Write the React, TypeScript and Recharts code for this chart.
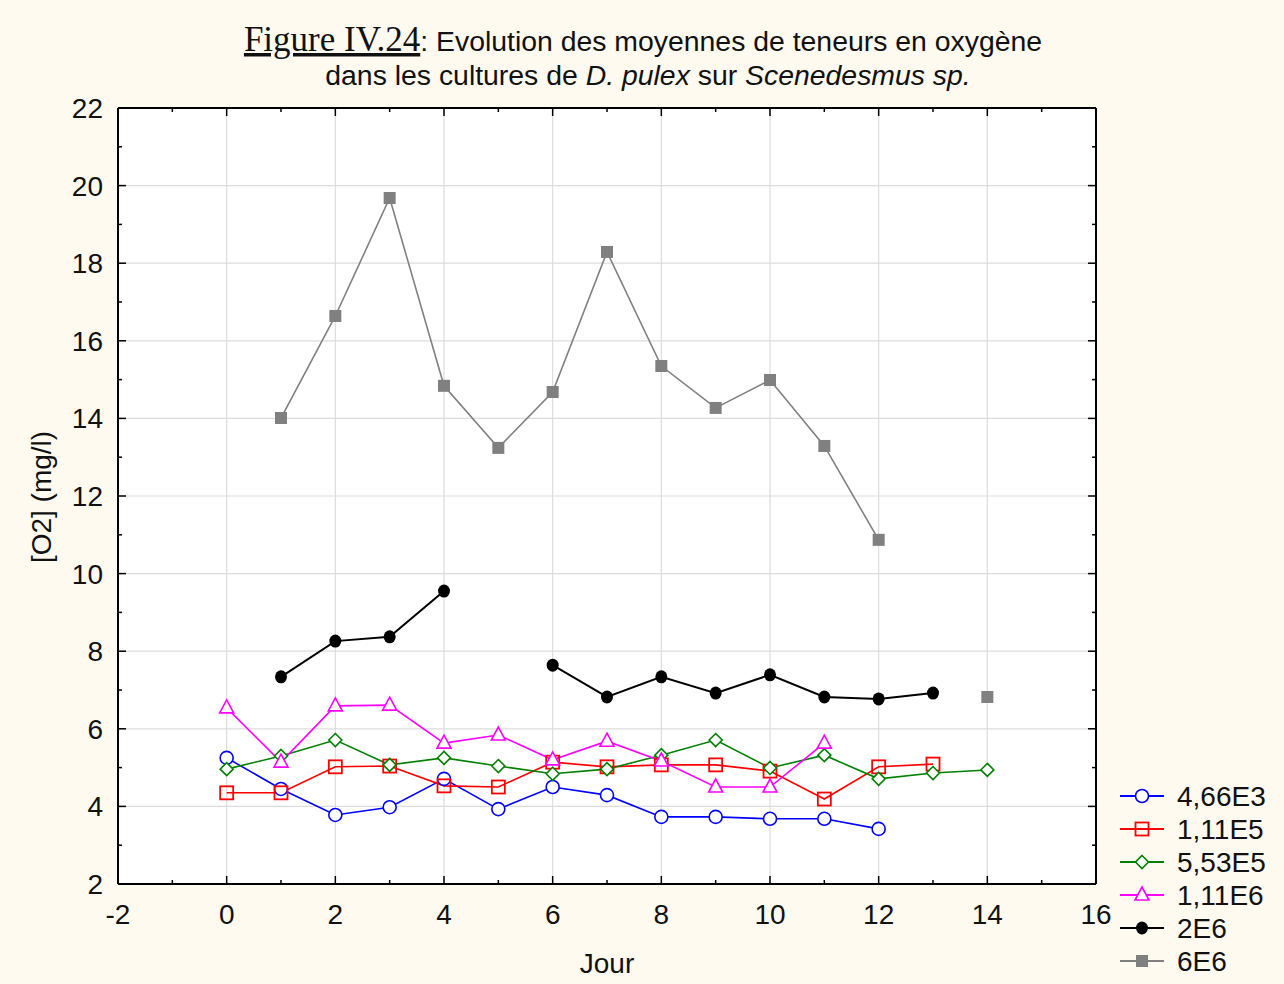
import React from 'react';
import { LineChart, Line, XAxis, YAxis, CartesianGrid, Legend } from 'recharts';

// day index for every row
const days = [0, 1, 2, 3, 4, 5, 6, 7, 8, 9, 10, 11, 12, 13, 14];

// mean O2 content (mg/l) per inoculum density, null = no measurement
const o2_466E3 = [5.25, 4.45, 3.78, 3.98, 4.71, 3.93, 4.5, 4.29, 3.73, 3.73, 3.68, 3.68, 3.42, null, null];
const o2_111E5 = [4.35, 4.35, 5.02, 5.04, 4.53, 4.5, 5.14, 5.02, 5.07, 5.07, 4.91, 4.19, 5.02, 5.09, null];
const o2_553E5 = [4.96, 5.3, 5.71, 5.07, 5.25, 5.04, 4.84, 4.96, 5.32, 5.71, 4.99, 5.32, 4.71, 4.86, 4.94];
const o2_111E6 = [6.54, 5.14, 6.59, 6.61, 5.63, 5.84, 5.2, 5.68, 5.17, 4.5, 4.5, 5.63, null, null, null];
const o2_2E6 = [null, 7.34, 8.26, 8.37, 9.55, null, 7.64, 6.82, 7.34, 6.92, 7.39, 6.82, 6.77, 6.92, null];
const o2_6E6 = [null, 14.01, 16.64, 19.68, 14.84, 13.24, 14.68, 18.29, 15.35, 14.27, 14.99, 13.29, 10.87, null, 6.82];

const seriesNames = ['4,66E3', '1,11E5', '5,53E5', '1,11E6', '2E6', '6E6'];
const seriesColors = ['#0000ff', '#ff0000', '#008000', '#ff00ff', '#000000', '#808080'];
const seriesShapes = ['circle', 'square', 'diamond', 'triangle', 'dot', 'block'];
const seriesWidths = [1.6, 1.6, 1.6, 1.6, 2, 1.6];
const seriesValues = [o2_466E3, o2_111E5, o2_553E5, o2_111E6, o2_2E6, o2_6E6];

const xTicks = [-2, -1, 0, 1, 2, 3, 4, 5, 6, 7, 8, 9, 10, 11, 12, 13, 14, 15, 16];
const yTicks = [2, 3, 4, 5, 6, 7, 8, 9, 10, 11, 12, 13, 14, 15, 16, 17, 18, 19, 20, 21, 22];
const xGrid = [0, 2, 4, 6, 8, 10, 12, 14];
const yGrid = [4, 6, 8, 10, 12, 14, 16, 18, 20];

const data = days.map((day, i) => {
  const row: Record<string, number | null> = { day };
  seriesValues.forEach((vals, s) => {
    row['s' + s] = vals[i];
  });
  return row;
});

const FONT = '"Liberation Sans", Arial, sans-serif';
const BG = '#fffaf0';
const FS = 28;
const MARGIN = { top: 107, right: 187, bottom: 99, left: 117 };
const PLOT_TOP = MARGIN.top + 1; // top frame line (top axis is 1px high)

function Marker({ shape, color, cx, cy }: { shape: string; color: string; cx: number; cy: number }) {
  switch (shape) {
    case 'circle':
      return <circle cx={cx} cy={cy} r={6.5} fill="#fff" stroke={color} strokeWidth={1.6} />;
    case 'square':
      return <rect x={cx - 6.5} y={cy - 6.5} width={13} height={13} fill="none" stroke={color} strokeWidth={1.8} />;
    case 'diamond':
      return (
        <polygon
          points={`${cx},${cy - 6.5} ${cx + 6.5},${cy} ${cx},${cy + 6.5} ${cx - 6.5},${cy}`}
          fill="#fff"
          stroke={color}
          strokeWidth={1.6}
        />
      );
    case 'triangle':
      return (
        <polygon
          points={`${cx},${cy - 8} ${cx + 7},${cy + 5} ${cx - 7},${cy + 5}`}
          fill="#fff"
          stroke={color}
          strokeWidth={1.6}
        />
      );
    case 'dot':
      return <ellipse cx={cx} cy={cy} rx={6} ry={6.5} fill={color} />;
    default:
      return <rect x={cx - 6} y={cy - 6} width={12} height={12} fill={color} />;
  }
}

// ticks point inward; labels only on even values. The bottom axis also
// draws the matching tick on the top frame.
function BottomTick(props: any) {
  const { x, y, payload } = props;
  const v = payload.value;
  const major = v % 2 === 0;
  const len = major ? 8 : 4;
  return (
    <g>
      <line x1={x} x2={x} y1={y} y2={y - len} stroke="#000" strokeWidth={1.5} />
      <line x1={x} x2={x} y1={PLOT_TOP} y2={PLOT_TOP + len} stroke="#000" strokeWidth={1.5} />
      {major && (
        <text x={x} y={y + 40} textAnchor="middle" fontSize={FS} fontFamily={FONT} fill="#111">
          {v}
        </text>
      )}
    </g>
  );
}

function LeftTick(props: any) {
  const { x, y, payload } = props;
  const v = payload.value;
  const major = v % 2 === 0;
  return (
    <g>
      <line x1={x} x2={x + (major ? 8 : 4)} y1={y} y2={y} stroke="#000" strokeWidth={1.5} />
      {major && (
        <text x={x - 15} y={y + 10} textAnchor="end" fontSize={FS} fontFamily={FONT} fill="#111">
          {v}
        </text>
      )}
    </g>
  );
}

function RightTick(props: any) {
  const { x, y, payload } = props;
  const major = payload.value % 2 === 0;
  return <line x1={x} x2={x - (major ? 8 : 4)} y1={y} y2={y} stroke="#000" strokeWidth={1.5} />;
}

function LegendBox() {
  return (
    <svg width={172} height={200}>
      {seriesNames.map((name, i) => {
        const cy = 18 + 33 * i;
        return (
          <g key={name}>
            <line x1={8} x2={52} y1={cy} y2={cy} stroke={seriesColors[i]} strokeWidth={2} />
            <Marker shape={seriesShapes[i]} color={seriesColors[i]} cx={30} cy={cy} />
            <text x={65} y={cy + 10} fontSize={FS} fontFamily={FONT} fill="#111">
              {name}
            </text>
          </g>
        );
      })}
    </svg>
  );
}

export default function App() {
  return (
    <div style={{ position: 'absolute', left: 0, top: 0, width: 1284, height: 984, background: BG }}>
      <LineChart width={1284} height={984} data={data} margin={MARGIN}>
        <CartesianGrid
          fill="#fff"
          stroke="#dcdcdc"
          strokeWidth={1.2}
          horizontalValues={yGrid}
          verticalValues={xGrid}
        />
        <XAxis
          dataKey="day"
          type="number"
          domain={[-2, 16]}
          ticks={xTicks}
          interval={0}
          height={1}
          tickSize={0}
          tickMargin={0}
          tickLine={false}
          tick={<BottomTick />}
          axisLine={{ stroke: '#000', strokeWidth: 2 }}
          allowDataOverflow
        />
        <XAxis
          xAxisId="top"
          orientation="top"
          type="number"
          height={1}
          tick={false}
          tickLine={false}
          axisLine={{ stroke: '#000', strokeWidth: 2 }}
        />
        <YAxis
          type="number"
          domain={[2, 22]}
          ticks={yTicks}
          interval={0}
          width={1}
          tickSize={0}
          tickMargin={0}
          tickLine={false}
          tick={<LeftTick />}
          axisLine={{ stroke: '#000', strokeWidth: 2 }}
          allowDataOverflow
        />
        <YAxis
          yAxisId="right"
          orientation="right"
          type="number"
          domain={[2, 22]}
          ticks={yTicks}
          interval={0}
          width={1}
          tickSize={0}
          tickMargin={0}
          tickLine={false}
          tick={<RightTick />}
          axisLine={{ stroke: '#000', strokeWidth: 2 }}
          allowDataOverflow
        />
        {seriesNames.map((name, s) => (
          <Line
            key={name}
            name={name}
            dataKey={'s' + s}
            stroke={seriesColors[s]}
            strokeWidth={seriesWidths[s]}
            isAnimationActive={false}
            dot={(p: any) =>
              p.cx == null || p.cy == null || p.value == null ? (
                <g key={`d-${s}-${p.index}`} />
              ) : (
                <Marker key={`d-${s}-${p.index}`} shape={seriesShapes[s]} color={seriesColors[s]} cx={p.cx} cy={p.cy} />
              )
            }
            activeDot={false}
          />
        ))}
        <Legend
          layout="horizontal"
          verticalAlign="middle"
          align="center"
          content={() => <LegendBox />}
          wrapperStyle={{ left: 1112, top: 778, width: 172, height: 200 }}
        />
      </LineChart>
      <svg
        width={1284}
        height={984}
        style={{ position: 'absolute', left: 0, top: 0, pointerEvents: 'none' }}
      >
        <text x={643} y={51} textAnchor="middle" fontSize={28.4} fontFamily={FONT} fill="#111">
          <tspan fontFamily='"Liberation Serif", serif' fontSize={35} textDecoration="underline">
            Figure IV.24
          </tspan>
          <tspan>: Evolution des moyennes de teneurs en oxygène</tspan>
        </text>
        <text x={648} y={85} textAnchor="middle" fontSize={28.4} fontFamily={FONT} fill="#111">
          dans les cultures de <tspan fontStyle="italic">D. pulex</tspan> sur{' '}
          <tspan fontStyle="italic">Scenedesmus sp.</tspan>
        </text>
        <text x={607} y={973} textAnchor="middle" fontSize={FS} fontFamily={FONT} fill="#111">
          Jour
        </text>
        <text
          x={51}
          y={497}
          textAnchor="middle"
          fontSize={FS}
          fontFamily={FONT}
          fill="#111"
          transform="rotate(-90 51 497)"
        >
          [O2] (mg/l)
        </text>
      </svg>
    </div>
  );
}
